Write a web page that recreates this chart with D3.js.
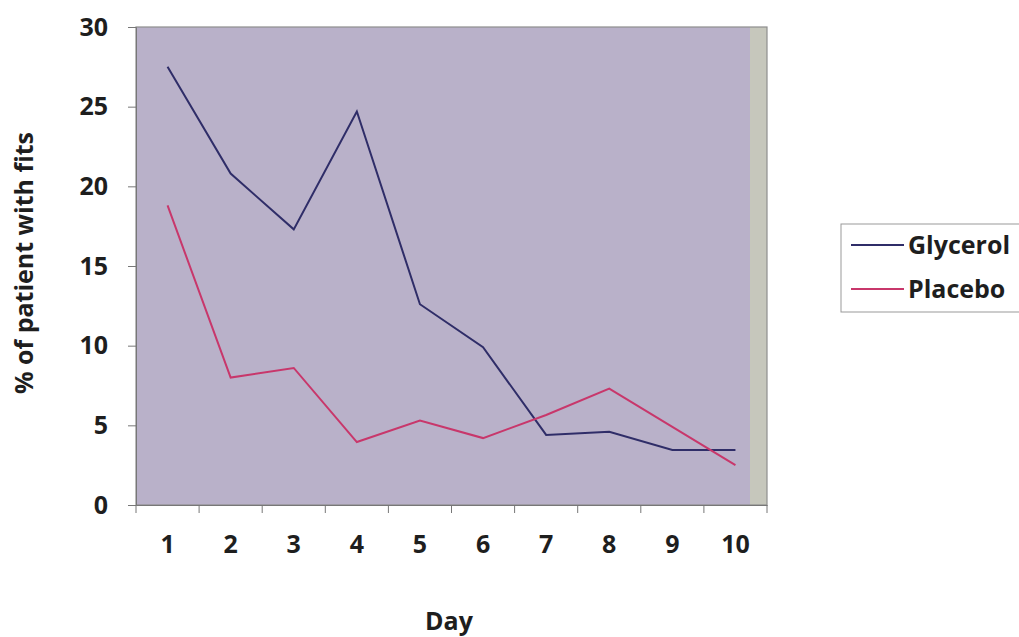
<!DOCTYPE html>
<html><head><meta charset="utf-8">
<script src="https://cdn.jsdelivr.net/npm/d3@7/dist/d3.min.js"></script>
<style>body{margin:0;background:#fff}svg{display:block}</style>
</head><body>
<script>
const days = ["1","2","3","4","5","6","7","8","9","10"];
const glycerol = [27.5, 20.8, 17.3, 24.7, 12.6, 9.9, 4.4, 4.6, 3.45, 3.45];
const placebo = [18.8, 8.0, 8.6, 3.95, 5.3, 4.2, 5.65, 7.3, 4.9, 2.5];
const yTicks = [0, 5, 10, 15, 20, 25, 30];
const seriesNames = ["Glycerol", "Placebo"];
const seriesColors = ["#2f2d68", "#c8376b"];

const W = 1019, H = 637;
const svg = d3.select("body").append("svg").attr("width", W).attr("height", H);
const font = "'Open Sans', 'Noto Sans', sans-serif";
const textColor = "#1e1e1e";

const x = d3.scaleBand().domain(days).range([136, 767]);
const y = d3.scaleLinear().domain([0, 30]).range([505, 27]);

// plot background
svg.append("rect").attr("x", 136).attr("y", 27).attr("width", 631).attr("height", 478).attr("fill", "#b9b1c9");
svg.append("rect").attr("x", 750).attr("y", 27).attr("width", 17).attr("height", 478).attr("fill", "#c6c7bc");
svg.append("rect").attr("x", 136).attr("y", 27).attr("width", 631).attr("height", 478)
  .attr("fill", "none").attr("stroke", "#8e8e8e").attr("stroke-width", 1.2);

// y axis
const ya = svg.append("g").attr("transform", "translate(136,0)")
  .call(d3.axisLeft(y).tickValues(yTicks).tickSize(8).tickPadding(20));
ya.select(".domain").attr("stroke", "#777");
ya.selectAll(".tick line").attr("stroke", "#777");
ya.selectAll("text").attr("font-family", font).attr("font-weight", "bold").attr("font-size", 25).attr("fill", textColor);

// x axis
const xa = svg.append("g").attr("transform", "translate(0,505)")
  .call(d3.axisBottom(x).tickSize(0));
xa.select(".domain").attr("stroke", "#777");
xa.selectAll("text").attr("font-family", font).attr("font-weight", "bold").attr("font-size", 25).attr("fill", textColor)
  .attr("dy", null).attr("y", 48);
// tick marks at band boundaries
const bounds = days.map(d => x(d)).concat([x.range()[1]]);
svg.append("g").selectAll("line").data(bounds).join("line")
  .attr("x1", d => d).attr("x2", d => d).attr("y1", 505).attr("y2", 513)
  .attr("stroke", "#777");

// lines
const line = d3.line().x((d, i) => x(days[i]) + x.bandwidth() / 2).y(d => y(d));
[glycerol, placebo].forEach((s, i) => {
  svg.append("path").datum(s).attr("d", line).attr("fill", "none")
    .attr("stroke", seriesColors[i]).attr("stroke-width", 2);
});

// axis titles
svg.append("text").attr("x", 449).attr("y", 630).attr("text-anchor", "middle")
  .attr("font-family", font).attr("font-weight", "bold").attr("font-size", 25).attr("fill", textColor).text("Day");
svg.append("text").attr("transform", "translate(33,263) rotate(-90)").attr("text-anchor", "middle")
  .attr("font-family", font).attr("font-weight", "bold").attr("font-size", 25).attr("fill", textColor).text("% of patient with fits");

// legend
svg.append("rect").attr("x", 841).attr("y", 224).attr("width", 190).attr("height", 88)
  .attr("fill", "#fff").attr("stroke", "#999");
seriesNames.forEach((n, i) => {
  const ly = 245 + i * 44;
  svg.append("line").attr("x1", 851).attr("x2", 904).attr("y1", ly).attr("y2", ly)
    .attr("stroke", seriesColors[i]).attr("stroke-width", 2);
  svg.append("text").attr("x", 908).attr("y", ly + 9).attr("font-family", font).attr("font-weight", "bold")
    .attr("font-size", 25).attr("fill", textColor).text(n);
});
</script>
</body></html>
